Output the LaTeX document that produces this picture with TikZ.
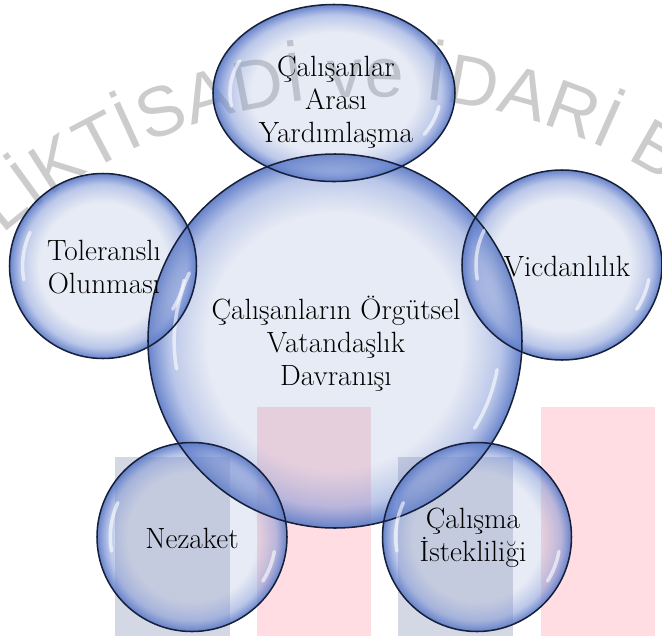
\documentclass[tikz,border=0pt]{standalone}
\usepackage{fontspec}
\newfontfamily\wmfont{Liberation Sans}
\usetikzlibrary{shapes.geometric,fadings,decorations.text}

\definecolor{bubblein}{RGB}{134,155,205}
\definecolor{bubblemid}{RGB}{118,143,212}
\definecolor{bubblerim}{RGB}{92,122,198}
\definecolor{bubbleline}{RGB}{22,32,58}
\definecolor{wmgray}{RGB}{212,215,228}
\definecolor{wmpink}{RGB}{255,221,226}
\definecolor{wmtext}{RGB}{204,204,204}

\pgfdeclareradialshading{bubble}{\pgfpointorigin}{color(0bp)=(bubblein); color(17bp)=(bubblein); color(22bp)=(bubblemid); color(25bp)=(bubblerim); color(50bp)=(bubblerim)}
\pgfdeclareradialshading{bubblealpha}{\pgfpointorigin}{color(0bp)=(pgftransparent!80); color(17bp)=(pgftransparent!80); color(22bp)=(pgftransparent!50); color(25bp)=(pgftransparent!5); color(50bp)=(pgftransparent!5)}
\pgfdeclarefading{bubblefade}{\pgfuseshading{bubblealpha}}

\def\bubbles{ocb/335/341/374/374, help/334/93/242/177, tolerance/103/266/187/185,
  conscience/562/265/200/190, courtesy/192/537/190/189, work/477/537/189/189}

\begin{document}
\begin{tikzpicture}[x=0.03cm, y=-0.03cm,
    bubble/.style={ellipse, inner sep=0pt, shading=bubble, path fading=bubblefade},
    rim/.style={draw=bubbleline, line width=1.3pt},
    gleam/.style={white, line width=3pt, line cap=round, opacity=.6},
    bubbletext/.style={align=center, text=black, font=\fontsize{25}{28}\selectfont}]
        \useasboundingbox (0,0) rectangle (662,636);

        % Watermark behind the bubbles
        \fill[wmgray] (115,457) rectangle (230,636);
        \fill[wmpink] (257,407) rectangle (371,636);
        \fill[wmgray] (398,457) rectangle (513,636);
        \fill[wmpink] (541,407) rectangle (655,636);
        \begin{scope}
            \clip (0,0) rectangle (662,636);
            \path[decorate, decoration={text along path, text color=wmtext, text align=fit to path,
                text={|\wmfont\fontsize{60}{60}\selectfont|LİKTİSADİ ve İDARİ B}}]
                (370,657) ++(-131:560) arc[start angle=-131, end angle=-58, radius=560];
        \end{scope}

        % Bubbles
        \foreach \n/\x/\y/\w/\h in \bubbles {
            \node[bubble, minimum width=\w*0.03cm, minimum height=\h*0.03cm] (\n) at (\x,\y) {};
        }
        \foreach \n/\x/\y/\w/\h in \bubbles {
            \draw[gleam] (\n.center) ++(-155:{0.43*\w} and {0.43*\h})
                arc[start angle=-155, end angle=-190, x radius=0.43*\w, y radius=0.43*\h];
            \draw[gleam] (\n.center) ++(10:{0.44*\w} and {0.44*\h})
                arc[start angle=10, end angle=32, x radius=0.44*\w, y radius=0.44*\h];
            \draw[rim] (\n.center) ellipse[x radius=\w/2, y radius=\h/2];
        }

        % Texts
        \node[bubbletext] (ocb-text) at (336,344) {Çalışanların Örgütsel\\Vatandaşlık\\Davranışı};
        \node[bubbletext] (help-text) at (336,102) {Çalışanlar\\Arası\\Yardımlaşma};
        \node[bubbletext] (tolerance-text) at (104,267) {Toleranslı\\Olunması};
        \node[bubbletext] (conscience-text) at (567,267) {Vicdanlılık};
        \node[bubbletext] (courtesy-text) at (192,538) {Nezaket};
        \node[bubbletext] (work-text) at (473,538) {Çalışma\\İstekliliği};
    \end{tikzpicture}
\end{document}
